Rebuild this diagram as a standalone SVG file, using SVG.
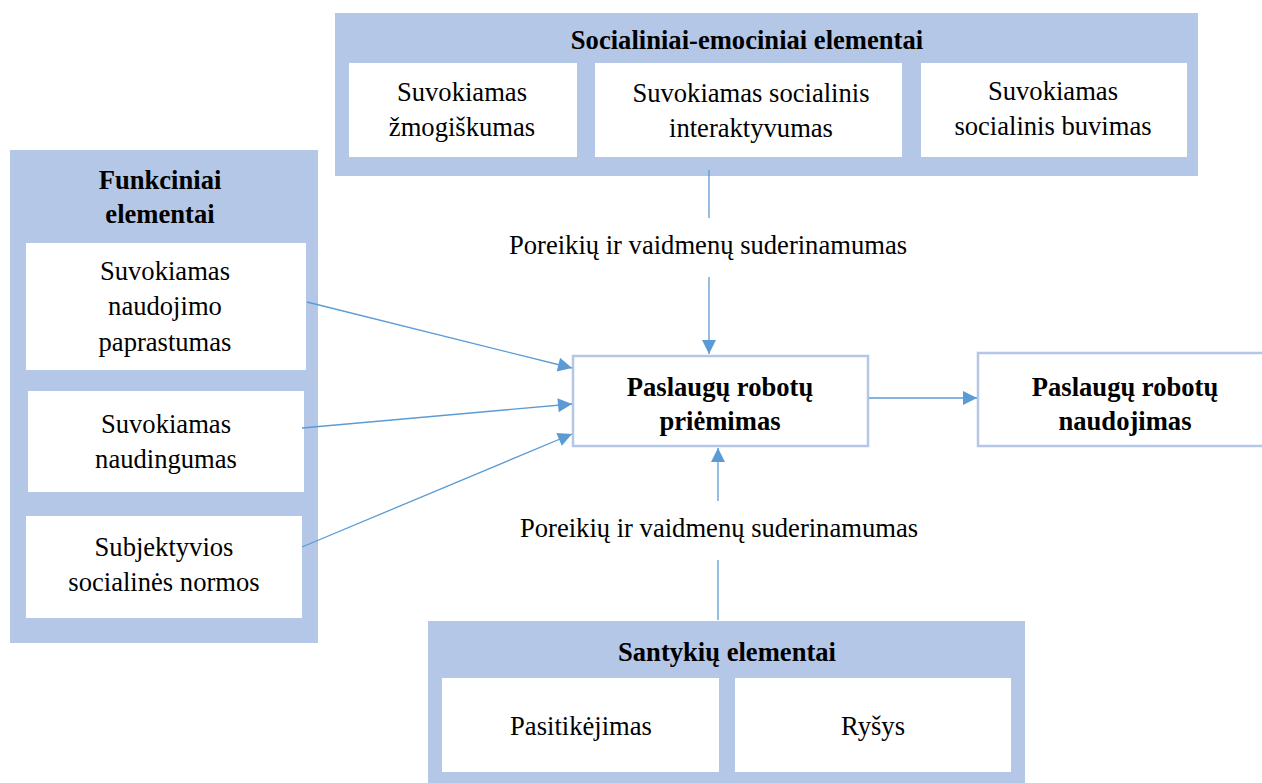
<svg xmlns="http://www.w3.org/2000/svg" width="1262" height="783" viewBox="0 0 1262 783">
  <style>
    .panel { fill: #b4c7e7; }
    .box { fill: #ffffff; }
    .outline { fill: #ffffff; stroke: #b4c7e7; stroke-width: 2.5; }
    .t { font-family: "Liberation Serif", "Times New Roman", serif; font-size: 26.6px; fill: #000; text-anchor: middle; }
    .b { font-weight: bold; }
    .conn { stroke: #5b9bd5; stroke-width: 1.3; fill: none; }
  </style>
  <defs>
    <marker id="arrow" viewBox="0 0 10 10" refX="10" refY="5" markerWidth="16" markerHeight="14" markerUnits="userSpaceOnUse" orient="auto">
      <path d="M0,0 L10,5 L0,10 z" fill="#5b9bd5"/>
    </marker>
  </defs>
  <rect width="1262" height="783" fill="#ffffff"/>

  <!-- Social-emotional group -->
  <g id="socialiniai-emociniai">
    <rect class="panel" x="335" y="13" width="863" height="163"/>
    <text class="t b" x="747" y="49">Socialiniai-emociniai elementai</text>
    <rect class="box" x="349" y="63" width="228" height="94"/>
    <text class="t" x="462" y="101">Suvokiamas</text>
    <text class="t" x="462" y="136">žmogiškumas</text>
    <rect class="box" x="595" y="63" width="307" height="94"/>
    <text class="t" x="751" y="102">Suvokiamas socialinis</text>
    <text class="t" x="751" y="137">interaktyvumas</text>
    <rect class="box" x="921" y="63" width="266" height="94"/>
    <text class="t" x="1053" y="100">Suvokiamas</text>
    <text class="t" x="1053" y="135">socialinis buvimas</text>
  </g>

  <!-- Functional group -->
  <g id="funkciniai">
    <rect class="panel" x="10" y="150" width="308" height="493"/>
    <text class="t b" x="160" y="189">Funkciniai</text>
    <text class="t b" x="160" y="223">elementai</text>
    <rect class="box" x="26" y="243" width="280" height="127"/>
    <text class="t" x="165" y="280">Suvokiamas</text>
    <text class="t" x="165" y="315">naudojimo</text>
    <text class="t" x="165" y="351">paprastumas</text>
    <rect class="box" x="28" y="391" width="276" height="101"/>
    <text class="t" x="166" y="433">Suvokiamas</text>
    <text class="t" x="166" y="468">naudingumas</text>
    <rect class="box" x="26" y="516" width="276" height="102"/>
    <text class="t" x="164" y="556">Subjektyvios</text>
    <text class="t" x="164" y="591">socialinės normos</text>
  </g>

  <!-- Acceptance -->
  <g id="priemimas">
    <rect class="outline" x="573" y="356" width="295" height="90"/>
    <text class="t b" x="720" y="396">Paslaugų robotų</text>
    <text class="t b" x="720" y="430">priėmimas</text>
  </g>

  <!-- Usage -->
  <g id="naudojimas">
    <rect class="outline" x="978" y="353" width="296" height="93"/>
    <text class="t b" x="1125" y="396">Paslaugų robotų</text>
    <text class="t b" x="1125" y="430">naudojimas</text>
  </g>

  <!-- Relational group -->
  <g id="santykiu">
    <rect class="panel" x="428" y="621" width="597" height="162"/>
    <text class="t b" x="727" y="661">Santykių elementai</text>
    <rect class="box" x="442" y="678" width="277" height="94"/>
    <text class="t" x="581" y="735">Pasitikėjimas</text>
    <rect class="box" x="735" y="678" width="276" height="94"/>
    <text class="t" x="873" y="735">Ryšys</text>
  </g>

  <!-- Connectors -->
  <g id="connectors">
    <line class="conn" x1="709" y1="170" x2="709" y2="218"/>
    <text class="t" x="708" y="254">Poreikių ir vaidmenų suderinamumas</text>
    <line class="conn" x1="709" y1="277" x2="709" y2="354" marker-end="url(#arrow)"/>

    <line class="conn" x1="718" y1="620" x2="718" y2="560"/>
    <text class="t" x="719" y="537">Poreikių ir vaidmenų suderinamumas</text>
    <line class="conn" x1="718" y1="501" x2="718" y2="448" marker-end="url(#arrow)"/>

    <line class="conn" x1="307" y1="302" x2="572" y2="368" marker-end="url(#arrow)"/>
    <line class="conn" x1="302" y1="428" x2="572" y2="404" marker-end="url(#arrow)"/>
    <line class="conn" x1="302" y1="547" x2="572" y2="434" marker-end="url(#arrow)"/>
    <line class="conn" x1="869" y1="398" x2="977" y2="398" marker-end="url(#arrow)"/>
  </g>
</svg>
